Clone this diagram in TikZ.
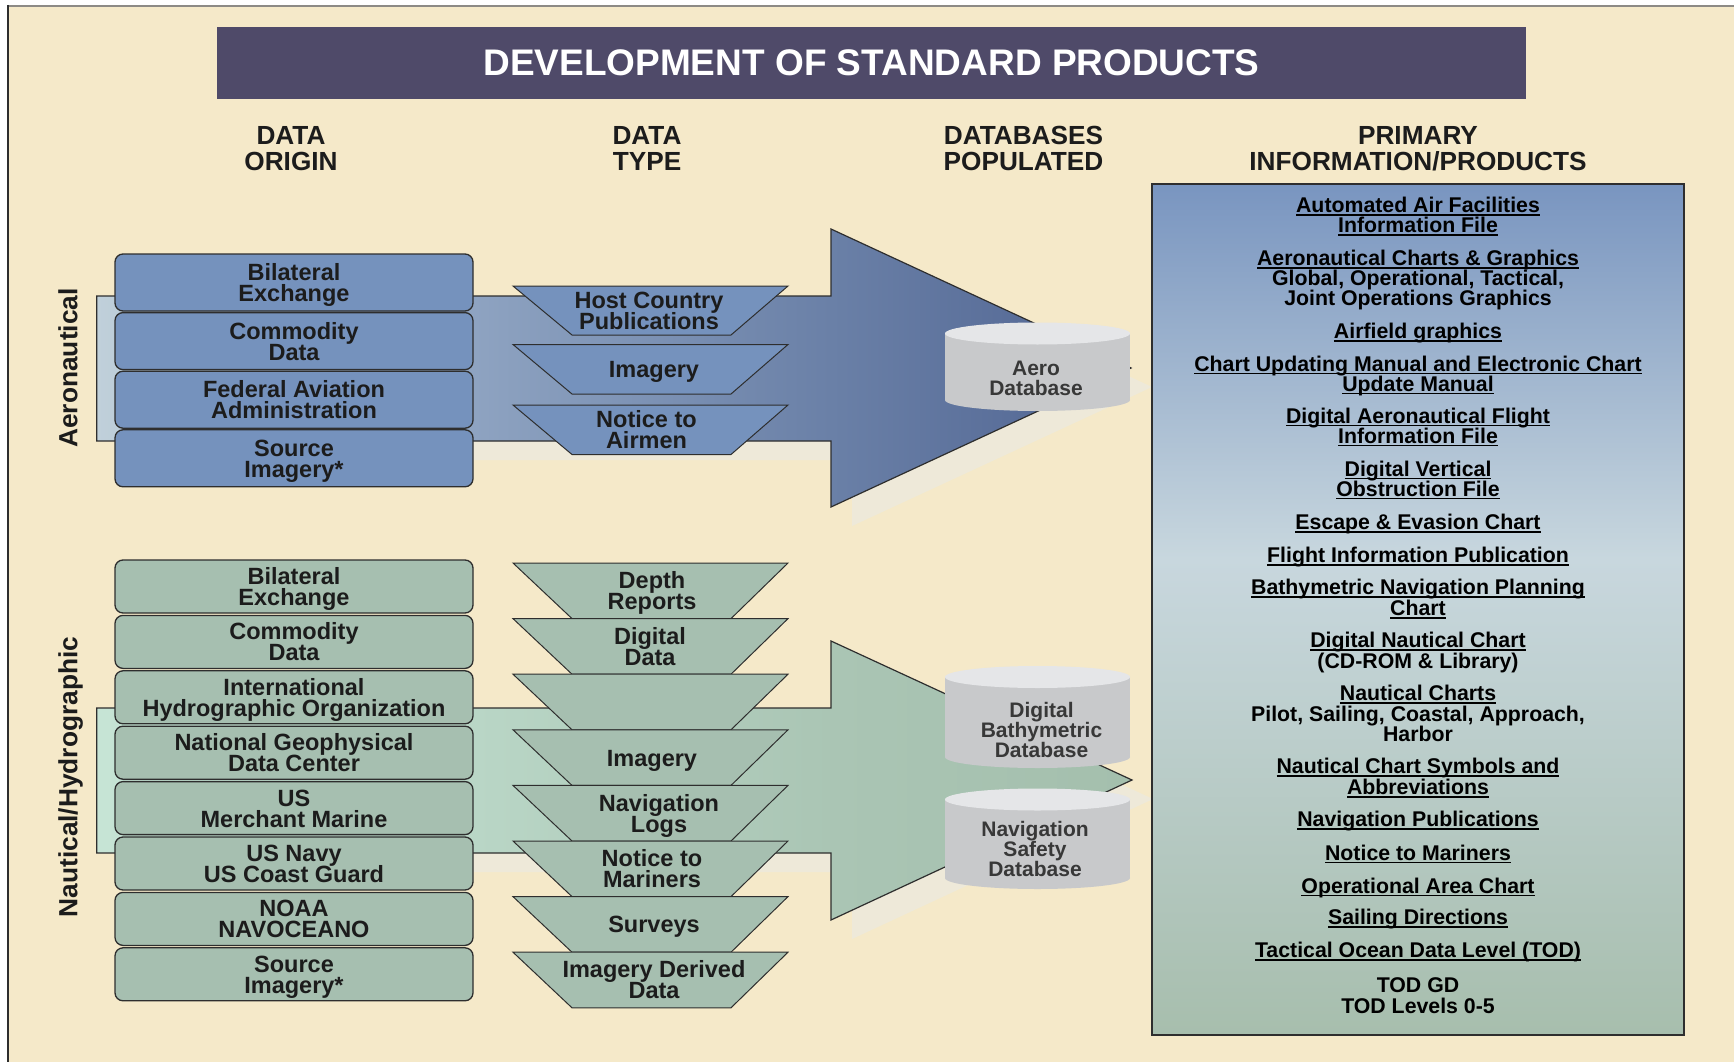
\documentclass[tikz,border=0pt]{standalone}
\usepackage{fontspec}
\setmainfont{Liberation Sans}
\definecolor{bg}{HTML}{F5E9C9}
\definecolor{shadowc}{HTML}{EEE9D9}
\definecolor{titlec}{HTML}{4F4A69}
\definecolor{aeroFill}{HTML}{7592BD}
\definecolor{nautFill}{HTML}{A6BFB0}
\definecolor{lineC}{HTML}{2E2E2E}
\definecolor{txtC}{HTML}{1C1C1C}
\definecolor{aeroA}{HTML}{C0D0DA}
\definecolor{aeroB}{HTML}{8EA3C1}
\definecolor{aeroC}{HTML}{6A80A7}
\definecolor{aeroD}{HTML}{4F6391}
\definecolor{nautA}{HTML}{C6E4D5}
\definecolor{nautB}{HTML}{B9D6C6}
\definecolor{nautC}{HTML}{AAC5B4}
\definecolor{nautD}{HTML}{A4BFAD}
\definecolor{prodTop}{HTML}{7995C0}
\definecolor{prodMid}{HTML}{C8D7DE}
\definecolor{prodBot}{HTML}{A7BEAD}
\definecolor{cylBody}{HTML}{C8C9CB}
\definecolor{cylTop}{HTML}{E5E6E8}
\definecolor{dbText}{HTML}{383838}
\definecolor{frameTop}{HTML}{8D8A85}

\pgfdeclarehorizontalshading{aeroshade}{100bp}{color(0bp)=(aeroA); color(25bp)=(aeroA); color(43.2bp)=(aeroB); color(60.5bp)=(aeroC); color(75bp)=(aeroD); color(100bp)=(aeroD)}
\pgfdeclarehorizontalshading{nautshade}{100bp}{color(0bp)=(nautA); color(25bp)=(nautA); color(43.2bp)=(nautB); color(60.5bp)=(nautC); color(75bp)=(nautD); color(100bp)=(nautD)}
\pgfdeclareverticalshading{prodshade}{100bp}{color(0bp)=(prodBot); color(25bp)=(prodBot); color(53bp)=(prodMid); color(75bp)=(prodTop); color(100bp)=(prodTop)}

\newcommand\boxfont{\fontsize{23.5}{21}\selectfont\bfseries\lineskiplimit=-100pt\relax}
\newcommand\dbfont{\fontsize{21}{20.3}\selectfont\bfseries\lineskiplimit=-100pt\relax}
\newcommand\sT{\rule[-0.25em]{0pt}{1.216em}}
\newsavebox\ulbox
\newcommand\myul[1]{\sbox\ulbox{#1}\rlap{\rule[-3.2pt]{\wd\ulbox}{1.4pt}}\usebox\ulbox}

\newcommand\trapz[6]{% style, top y, height, name, x of text, text
  \path[#1] (513,#2) -- (788,#2) -- (731,{#2+#3}) -- (572,{#2+#3}) -- cycle;
  \node[ttext] (#4) at (#5,{#2+#3/2}) {#6};}
\newcommand\trapzempty[3]{%
  \path[#1] (513,#2) -- (788,#2) -- (731,{#2+#3}) -- (572,{#2+#3}) -- cycle;}
\newcommand\cyl[3]{% cx, top centre y, bottom centre y
  \fill[cylBody] ({#1-92.5},#2) rectangle ({#1+92.5},#3);
  \fill[cylBody] (#1,#3) ellipse [x radius=92.5pt, y radius=11pt];
  \fill[cylTop] (#1,#2) ellipse [x radius=92.5pt, y radius=11pt];}

\tikzset{
  obox/.style={draw=lineC, line width=1.3pt, rounded corners=8pt, minimum width=358pt,
    inner sep=0pt, align=center, font=\boxfont, text=txtC},
  aerobox/.style={obox, fill=aeroFill, minimum height=57pt},
  nautbox/.style={obox, fill=nautFill, minimum height=53pt},
  aerotrap/.style={fill=aeroFill, draw=lineC, line width=1pt},
  nauttrap/.style={fill=nautFill, draw=lineC, line width=1pt},
  ttext/.style={inner sep=0pt, align=center, font=\boxfont, text=txtC},
  hdr/.style={inner sep=0pt, align=center, font=\fontsize{26.2}{26.5}\selectfont\bfseries, text=txtC},
  side/.style={inner sep=0pt, rotate=90, font=\fontsize{26.3}{28}\selectfont\bfseries, text=txtC},
  dbtext/.style={inner sep=0pt, align=center, font=\dbfont, text=dbText},
  ptext/.style={inner sep=0pt, anchor=base, font=\fontsize{21.3}{20}\selectfont\bfseries, text=black},
}

\begin{document}
\begin{tikzpicture}[x=1pt,y=-1pt]
\useasboundingbox (0,0) rectangle (1734,1062);
\fill[white] (0,0) rectangle (1734,1062);
\fill[bg] (8,6) rectangle (1734,1062);
\draw[frameTop, line width=2pt] (8,6) -- (1734,6);
\draw[lineC, line width=1.5pt] (8,5) -- (8,1062);

% title
\node[fill=titlec, minimum width=1309pt, minimum height=72pt, inner sep=0pt, text=white,
  font=\fontsize{37}{40}\selectfont\bfseries] (title) at (871.5,63) {DEVELOPMENT OF STANDARD PRODUCTS};

% headers
\node[hdr] (h1) at (291,148.5) {DATA\\ORIGIN};
\node[hdr] (h2) at (647,148.5) {DATA\\TYPE};
\node[hdr] (h3) at (1023.5,148.5) {DATABASES\\POPULATED};
\node[hdr] (h4) at (1418,148.5) {PRIMARY\\INFORMATION/PRODUCTS};

% shadows of the big arrows
\fill[shadowc] (117.7,315) -- (852,315) -- (852,248) -- (1152,387) -- (852,526) -- (852,460) -- (117.7,460) -- cycle;
\fill[shadowc] (117.7,727) -- (852,727) -- (852,660) -- (1153,799) -- (852,939) -- (852,872) -- (117.7,872) -- cycle;

% big arrows
\shadedraw[shading=aeroshade, draw=lineC, line width=1.2pt]
  (96.7,296) -- (831,296) -- (831,229) -- (1131,368) -- (831,507) -- (831,441) -- (96.7,441) -- cycle;
\shadedraw[shading=nautshade, draw=lineC, line width=1.2pt]
  (96.7,708) -- (831,708) -- (831,641) -- (1132,780) -- (831,920) -- (831,853) -- (96.7,853) -- cycle;

% side labels
\node[side] (aerolab) at (68,368) {Aeronautical};
\node[side] (nautlab) at (70.7,777) {Nautical/Hydrographic};

% data origin boxes - aeronautical
\node[aerobox] (ab1) at (294,282.5) {\sT Bilateral\\\sT Exchange};
\node[aerobox] (ab2) at (294,341.1) {\sT Commodity\\\sT Data};
\node[aerobox] (ab3) at (294,399.7) {\sT Federal Aviation\\\sT Administration};
\node[aerobox] (ab4) at (294,458.3) {\sT Source\\\sT Imagery*};

% data origin boxes - nautical
\node[nautbox] (nb1) at (294,586.5) {\sT Bilateral\\\sT Exchange};
\node[nautbox] (nb2) at (294,641.9) {\sT Commodity\\\sT Data};
\node[nautbox] (nb3) at (294,697.3) {\sT International\\\sT Hydrographic Organization};
\node[nautbox] (nb4) at (294,752.7) {\sT National Geophysical\\\sT Data Center};
\node[nautbox] (nb5) at (294,808.1) {\sT US\\\sT Merchant Marine};
\node[nautbox] (nb6) at (294,863.5) {\sT US Navy\\\sT US Coast Guard};
\node[nautbox] (nb7) at (294,918.9) {\sT NOAA\\\sT NAVOCEANO};
\node[nautbox] (nb8) at (294,974.3) {\sT Source\\\sT Imagery*};

% data type trapezoids - aeronautical
\trapz{aerotrap}{286}{49}{at1}{649}{\sT Host Country\\\sT Publications}
\trapz{aerotrap}{344.5}{49.5}{at2}{654}{\sT Imagery}
\trapz{aerotrap}{405}{49.5}{at3}{646.5}{\sT Notice to\\\sT Airmen}

% data type trapezoids - nautical
\trapz{nauttrap}{563}{55.6}{nt1}{652}{\sT Depth\\\sT Reports}
\trapz{nauttrap}{618.6}{55.6}{nt2}{650}{\sT Digital\\\sT Data}
\trapzempty{nauttrap}{674.2}{55.6}
\trapz{nauttrap}{729.8}{55.6}{nt4}{652}{\sT Imagery}
\trapz{nauttrap}{785.4}{55.6}{nt5}{659}{\sT Navigation\\\sT Logs}
\trapz{nauttrap}{841}{55.6}{nt6}{652}{\sT Notice to\\\sT Mariners}
\trapz{nauttrap}{896.6}{55.6}{nt7}{654}{\sT Surveys}
\trapz{nauttrap}{952.2}{55.6}{nt8}{654}{\sT Imagery Derived\\\sT Data}

% databases
\cyl{1037.5}{333.5}{400}
\node[dbtext] (db1) at (1036,378) {\sT Aero\\\sT Database};
\cyl{1037.5}{677}{757}
\node[dbtext] (db2) at (1041.5,730) {\sT Digital\\Bathymetric\\\sT Database};
\cyl{1037.5}{799.5}{878}
\node[dbtext] (db3) at (1035,849) {\sT Navigation\\Safety\\\sT Database};

% products box
\shadedraw[shading=prodshade, draw=lineC, line width=1.8pt] (1152,184) rectangle (1684,1035);

\node[ptext] (p1a) at (1418,212.5) {\myul{Automated Air Facilities}};
\node[ptext] (p1b) at (1418,232.5) {\myul{Information File}};
\node[ptext] (p2a) at (1418,265.5) {\myul{Aeronautical Charts \& Graphics}};
\node[ptext] (p2b) at (1418,285.5) {Global, Operational, Tactical,};
\node[ptext] (p2c) at (1418,305) {Joint Operations Graphics};
\node[ptext] (p3) at (1418,338.5) {\myul{Airfield graphics}};
\node[ptext] (p4a) at (1418,371) {\myul{Chart Updating Manual and Electronic Chart}};
\node[ptext] (p4b) at (1418,391) {\myul{Update Manual}};
\node[ptext] (p5a) at (1418,423) {\myul{Digital Aeronautical Flight}};
\node[ptext] (p5b) at (1418,443) {\myul{Information File}};
\node[ptext] (p6a) at (1418,476) {\myul{Digital Vertical}};
\node[ptext] (p6b) at (1418,496) {\myul{Obstruction File}};
\node[ptext] (p7) at (1418,529.5) {\myul{Escape \& Evasion Chart}};
\node[ptext] (p8) at (1418,562.5) {\myul{Flight Information Publication}};
\node[ptext] (p9a) at (1418,594.5) {\myul{Bathymetric Navigation Planning}};
\node[ptext] (p9b) at (1418,615.5) {\myul{Chart}};
\node[ptext] (p10a) at (1418,647.5) {\myul{Digital Nautical Chart}};
\node[ptext] (p10b) at (1418,668.5) {(CD-ROM \& Library)};
\node[ptext] (p11a) at (1418,700.5) {\myul{Nautical Charts}};
\node[ptext] (p11b) at (1418,721.5) {Pilot, Sailing, Coastal, Approach,};
\node[ptext] (p11c) at (1418,741.5) {Harbor};
\node[ptext] (p12a) at (1418,773.5) {\myul{Nautical Chart Symbols and}};
\node[ptext] (p12b) at (1418,794.5) {\myul{Abbreviations}};
\node[ptext] (p13) at (1418,826.5) {\myul{Navigation Publications}};
\node[ptext] (p14) at (1418,860) {\myul{Notice to Mariners}};
\node[ptext] (p15) at (1418,893) {\myul{Operational Area Chart}};
\node[ptext] (p16) at (1418,924.5) {\myul{Sailing Directions}};
\node[ptext] (p17) at (1418,957.5) {\myul{Tactical Ocean Data Level (TOD)}};
\node[ptext] (p18a) at (1418,992) {TOD GD};
\node[ptext] (p18b) at (1418,1013) {TOD Levels 0-5};
\end{tikzpicture}
\end{document}
